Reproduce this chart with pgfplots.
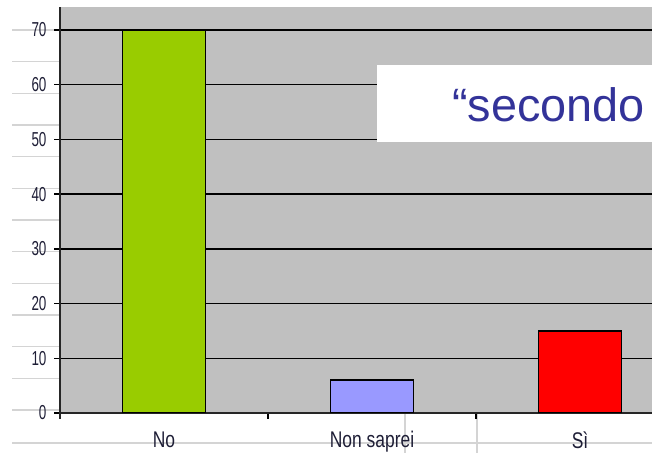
\documentclass[border=0pt]{standalone}
\usepackage{pgfplots}
\pgfplotsset{compat=1.18}
\usepackage{fontspec}
\setmainfont{Liberation Sans}
\definecolor{plotbg}{HTML}{C0C0C0}
\definecolor{barno}{HTML}{99CC00}
\definecolor{barnonso}{HTML}{9999FF}
\definecolor{barsi}{HTML}{FF0000}
\definecolor{tbl}{HTML}{D4D4D4}
\definecolor{ticktxt}{HTML}{1E1E36}
\definecolor{boxtxt}{HTML}{333399}
\begin{document}
\begin{tikzpicture}[x=1bp,y=1bp]
\useasboundingbox (0,0) rectangle (652,453);
% faint table lines behind the chart
\foreach \k in {0,...,12}
  \draw[tbl, line width=1.6bp] (12,{453-30-31.67*\k}) -- (60,{453-30-31.67*\k});
\draw[tbl, line width=1.6bp] (12,10) -- (652,10);
\draw[tbl, line width=1.6bp] (405,40) -- (405,0);
\draw[tbl, line width=1.6bp] (477,40) -- (477,0);
\begin{axis}[
    at={(60bp,40bp)}, anchor=south west,
    scale only axis, width=592bp, height=406bp,
    xmin=-0.5, xmax=2.346, ymin=0, ymax=74.2,
    axis x line=bottom, axis y line=left,
    axis line style={-, line width=1.6bp, black!85},
    y axis line style={shorten <=-6bp},
    axis background/.style={fill=plotbg},
    ybar, bar width=0.4, bar shift=0pt,
    ytick={0,10,...,70},
    ymajorgrids, grid style={black, line width=1.5bp},
    tick align=outside, major tick length=6bp,
    tick style={black, line width=1.4bp},
    xtick={0.5,1.5}, xticklabels={},
    extra x ticks={0,1,2},
    extra x tick labels={\scalebox{1}[1.3]{No},\scalebox{1}[1.3]{Non saprei},\scalebox{1}[1.3]{Sì}},
    extra x tick style={major tick length=0pt, grid=none},
    ticklabel style={text=ticktxt},
    xticklabel style={font=\fontsize{17.5}{19}\selectfont, yshift=-15bp},
    yticklabel style={font=\fontsize{13.5}{15}\selectfont, xshift=-4bp},
    yticklabel={\scalebox{1}[1.5]{\pgfmathprintnumber{\tick}}},
    /pgf/number format/assume math mode=true,
]
\addplot[fill=barno, draw=black, line width=1.4bp] coordinates {(0,70)};
\addplot[fill=barnonso, draw=black, line width=1.4bp] coordinates {(1,6)};
\addplot[fill=barsi, draw=black, line width=1.4bp] coordinates {(2,15)};
\end{axis}
% overlapping text box
\fill[white] (377,453-142) rectangle (660,453-65);
\node[anchor=base west, inner sep=0pt, text=boxtxt, font=\fontsize{47}{50}\selectfont]
  at (452,453-122) {“secondo};
\end{tikzpicture}
\end{document}
